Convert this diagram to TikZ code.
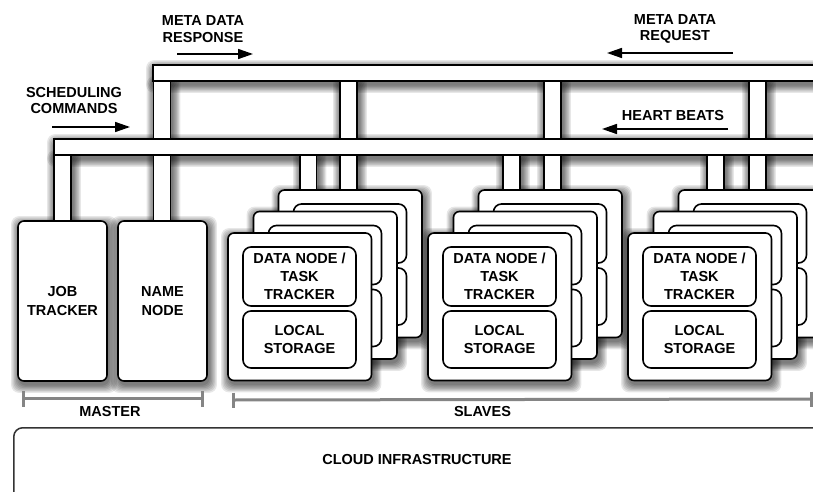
\documentclass[tikz,border=0pt]{standalone}
\usepackage{fontspec}
\setmainfont{Liberation Sans}
\usetikzlibrary{calc,arrows.meta}
\pgfdeclarelayer{bg}
\pgfdeclarelayer{shadow}
\pgfdeclarelayer{pillar}
\pgfsetlayers{bg,shadow,pillar,main}
\newcommand\boxfont{\bfseries\fontsize{14.5pt}{18.3pt}\selectfont}
\newcommand\lblfont{\bfseries\fontsize{14.5pt}{16.8pt}\selectfont}
\tikzset{
 outline/.style={draw=black, line width=1.6pt, fill=white},
 bus/.style={outline, inner sep=0pt, outer sep=0pt, anchor=north west, minimum height=16pt},
 card/.style={outline, rounded corners=6pt, inner sep=0pt, outer sep=0pt, anchor=north west, minimum width=143.5pt, minimum height=147.5pt},
 inbox/.style={outline, rounded corners=8pt, inner sep=0pt, outer sep=0pt, anchor=north west, minimum width=113pt, align=center, font=\boxfont},
 mbox/.style={outline, rounded corners=6pt, inner sep=0pt, outer sep=0pt, anchor=north west, minimum width=89pt, minimum height=160pt, align=center, font=\boxfont},
 lbl/.style={align=center, font=\lblfont, inner sep=0pt},
 flow/.style={line width=1.6pt, -{Triangle[length=15pt,width=10pt]}},
 brk/.style={draw=black!48, line width=3pt},
 shd/.style={fill=black, opacity=0.095},
}
\newcommand\softshadow[2]{%
 \begin{pgfonlayer}{shadow}
  \foreach \r in {1,...,7}{
   \fill[shd, rounded corners=8pt] ($#1+(1.5-1.2*\r,3.5-1.2*\r)$) rectangle ($#2+(1.5+1.2*\r,3.5+1.2*\r)$);}
 \end{pgfonlayer}}
\newcommand\nodeshadow[1]{\softshadow{(#1.north west)}{(#1.south east)}}
\newcommand\pillar[4]{%
 \softshadow{(#1 |- #3)}{(#2 |- #4)}%
 \begin{pgfonlayer}{pillar}
  \draw[outline] (#1 |- #3) rectangle (#2 |- #4);
 \end{pgfonlayer}}
\begin{document}
\begin{tikzpicture}[x=1pt,y=-1pt]
\useasboundingbox (0,0) rectangle (813,492);
\begin{pgfonlayer}{bg}\fill[white] (0,0) rectangle (813,492);\end{pgfonlayer}

% cloud infrastructure
\node[outline, draw=black!80, line width=1.5pt, rounded corners=9pt, anchor=north west, minimum width=830pt, minimum height=100pt, inner sep=0pt] (cloud) at (13,427) {};
\node[lbl] (cloudlbl) at (417,460) {CLOUD INFRASTRUCTURE};

% buses
\node[bus, minimum width=700pt] (topbus) at (153,65) {};
\node[bus, minimum width=800pt] (lowbus) at (54,139) {};
\nodeshadow{topbus}
\nodeshadow{lowbus}

% master
\node[mbox] (jt) at (18,221) {JOB\\TRACKER};
\node[mbox] (nn) at (118,221) {NAME\\NODE};
\nodeshadow{jt}
\nodeshadow{nn}

% slave stacks
\foreach \k/\x in {1/228,2/428,3/628}{
 \node[card] (bk\k) at (\x+50.5,190) {};
 \node[inbox, minimum height=59pt] (bkd\k) at (\x+65.5,204) {};
 \node[inbox, minimum height=57pt] (bks\k) at (\x+65.5,268) {};
 \node[card] (md\k) at (\x+25.5,211.5) {};
 \node[inbox, minimum height=59pt] (mdd\k) at (\x+40.5,225.5) {};
 \node[inbox, minimum height=57pt] (mds\k) at (\x+40.5,289.5) {};
 \node[card] (fr\k) at (\x,233) {};
 \node[inbox, minimum height=59pt] (dn\k) at (\x+15,247) {DATA NODE /\\TASK\\TRACKER};
 \node[inbox, minimum height=57pt] (ls\k) at (\x+15,311) {LOCAL\\STORAGE};
 \nodeshadow{bk\k}
 \nodeshadow{md\k}
 \nodeshadow{fr\k}
}

% pillar edges
\coordinate (jtL) at (54,0);    \coordinate (jtR) at (71,0);
\coordinate (nnL) at (153.5,0); \coordinate (nnR) at (170.5,0);
\coordinate (a1L) at (300,0);   \coordinate (a1R) at (316.5,0);
\coordinate (b1L) at (340,0);   \coordinate (b1R) at (357,0);
\coordinate (a2L) at (503,0);   \coordinate (a2R) at (520,0);
\coordinate (b2L) at (544,0);   \coordinate (b2R) at (561,0);
\coordinate (a3L) at (707,0);   \coordinate (a3R) at (724,0);
\coordinate (b3L) at (749,0);   \coordinate (b3R) at (766,0);

\pillar{jtL}{jtR}{lowbus.south}{jt.north}
\pillar{nnL}{nnR}{topbus.south}{nn.north}
\pillar{a1L}{a1R}{lowbus.south}{bk1.north}
\pillar{b1L}{b1R}{topbus.south}{bk1.north}
\pillar{a2L}{a2R}{lowbus.south}{bk2.north}
\pillar{b2L}{b2R}{topbus.south}{bk2.north}
\pillar{a3L}{a3R}{lowbus.south}{bk3.north}
\pillar{b3L}{b3R}{topbus.south}{bk3.north}

% brackets
\coordinate (mL) at (23,398.5);  \coordinate (mR) at (202,398.5);
\coordinate (sL) at (233,400);   \coordinate (sR) at (811,399);
\draw[brk] (mL) -- (mR);
\draw[brk] ([yshift=7.5pt]mL) -- ([yshift=-8pt]mL);
\draw[brk] ([yshift=7.5pt]mR) -- ([yshift=-8pt]mR);
\draw[brk] (sL) -- (sR);
\draw[brk] ([yshift=7.5pt]sL) -- ([yshift=-8pt]sL);
\draw[brk] ([yshift=7.5pt]sR) -- ([yshift=-8pt]sR);
\node[lbl] (master) at (110,411.5) {MASTER};
\node[lbl] (slaves) at (482.5,412) {SLAVES};

% flow labels and arrows
\node[lbl] (mdresp) at (203,29) {META DATA\\RESPONSE};
\coordinate (mdrA) at (177,54); \coordinate (mdrB) at (253,54);
\draw[flow] (mdrA) -- (mdrB);
\node[lbl] (sched) at (74,100.5) {SCHEDULING\\COMMANDS};
\coordinate (schA) at (52,127); \coordinate (schB) at (130,127);
\draw[flow] (schA) -- (schB);
\node[lbl] (mdreq) at (675,29) {META DATA\\REQUEST};
\coordinate (mqA) at (733,53); \coordinate (mqB) at (607,53);
\draw[flow] (mqA) -- (mqB);
\node[lbl] (hb) at (673,115.5) {HEART BEATS};
\coordinate (hbA) at (728,129); \coordinate (hbB) at (602,129);
\draw[flow] (hbA) -- (hbB);
\end{tikzpicture}
\end{document}
